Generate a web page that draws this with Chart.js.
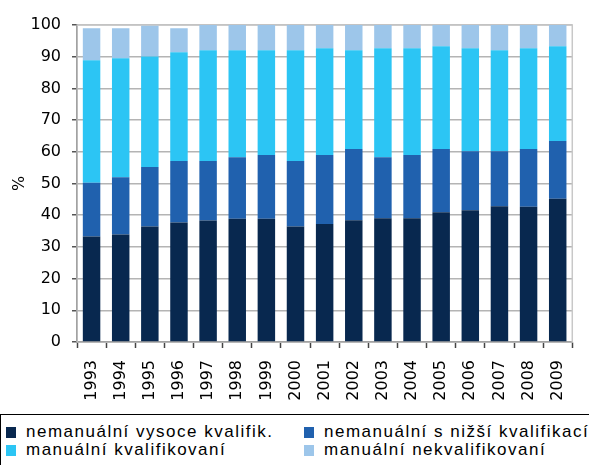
<!DOCTYPE html>
<html>
<head>
<meta charset="utf-8">
<script src="https://cdn.jsdelivr.net/npm/chart.js@4/dist/chart.umd.min.js"></script>
<style>
  html, body { margin: 0; padding: 0; background: #fff; overflow: hidden; }
  #wrap { position: absolute; left: 0; top: 0; width: 589px; height: 411px; }
  #legend {
    position: absolute; left: 0; top: 414px; width: 620px; height: 80px;
    border: 1px solid #000; font-family: "Liberation Sans", Arial, sans-serif;
    font-size: 17px; letter-spacing: 1.5px; color: #000; white-space: nowrap;
  }
  .item { position: absolute; height: 18px; line-height: 18px; }
  .item i { position: absolute; left: 0; top: 4px; width: 10px; height: 11px; }
  .item span { position: absolute; left: 20px; top: 0; }
</style>
</head>
<body>
<div id="wrap"><canvas id="chart"></canvas></div>
<div id="legend"></div>
<script>
// Data (segment sizes, %)
const years = ['1993', '1994', '1995', '1996', '1997', '1998', '1999', '2000', '2001',
  '2002', '2003', '2004', '2005', '2006', '2007', '2008', '2009'];

const seriesNames = [
  'nemanuální vysoce kvalifik.',
  'nemanuální s nižší kvalifikací',
  'manuální kvalifikovaní',
  'manuální nekvalifikovaní'
];

const nemanualVysoce = [33.3, 33.9, 36.4, 37.7, 38.3, 38.9, 38.9, 36.4, 37.2, 38.4, 39.0, 39.0, 40.9, 41.6, 42.8, 42.7, 45.2];
const nemanualNizsi = [16.9, 18.1, 18.8, 19.4, 18.8, 19.4, 20.1, 20.7, 21.8, 22.5, 19.3, 20.0, 20.0, 18.6, 17.4, 18.2, 18.2];
const manualKval = [38.7, 37.5, 34.9, 34.3, 34.9, 33.7, 33.0, 34.9, 33.7, 31.1, 34.4, 33.7, 32.4, 32.5, 31.8, 31.8, 29.9];
const manualNekval = [10.1, 9.5, 9.7, 7.6, 8.0, 8.0, 8.0, 8.0, 7.3, 8.0, 7.3, 7.3, 6.7, 7.3, 8.0, 7.3, 6.7];

const yTicks = [0, 10, 20, 30, 40, 50, 60, 70, 80, 90, 100];

const colors = ['#08284f', '#2061ae', '#2cc5f4', '#9dc6ea'];
const values = [nemanualVysoce, nemanualNizsi, manualKval, manualNekval];

const FONT = '"DejaVu Sans", sans-serif';

// thin grey frame round the plot area (right/top edges in the original)
const frame = {
  id: 'frame',
  beforeDatasetsDraw(chart) {
    const a = chart.chartArea;
    const c = chart.ctx;
    c.save();
    c.strokeStyle = '#c8c8c8';
    c.lineWidth = 1.5;
    c.strokeRect(a.left, a.top, a.right - a.left, a.bottom - a.top);
    c.restore();
  }
};

new Chart(document.getElementById('chart'), {
  type: 'bar',
  data: {
    labels: years,
    datasets: values.map((v, i) => ({
      label: seriesNames[i],
      data: v,
      backgroundColor: colors[i],
      borderWidth: 0,
      barPercentage: 0.6,
      categoryPercentage: 1
    }))
  },
  options: {
    responsive: true,
    maintainAspectRatio: false,
    animation: false,
    layout: { padding: { top: 25, right: 3, left: 0, bottom: 0 } },
    plugins: {
      legend: { display: false },
      tooltip: { enabled: false }
    },
    scales: {
      x: {
        stacked: true,
        grid: {
          drawOnChartArea: false,
          drawTicks: true,
          tickLength: 6,
          tickColor: '#444',
          tickWidth: 1.5
        },
        border: { color: '#333', width: 1.5 },
        ticks: {
          color: '#000',
          font: { family: FONT, size: 16 },
          maxRotation: 90,
          minRotation: 90,
          padding: 12
        },
        afterFit(scale) { scale.height = 69; }
      },
      y: {
        stacked: true,
        min: 0,
        max: 100,
        afterBuildTicks(scale) { scale.ticks = yTicks.map(v => ({ value: v })); },
        grid: {
          color: '#b4b4b4',
          lineWidth: 1.5,
          drawTicks: true,
          tickLength: 5,
          tickColor: '#555'
        },
        border: { color: '#333', width: 1.5 },
        ticks: {
          color: '#000',
          font: { family: FONT, size: 16 },
          padding: 11
        },
        title: {
          display: true,
          text: '%',
          color: '#000',
          font: { family: FONT, size: 16 },
          padding: { top: 10, bottom: 0 }
        },
        afterFit(scale) { scale.width = 77; }
      }
    }
  },
  plugins: [frame]
});

// legend box below the chart, two columns
const legend = document.getElementById('legend');
const pos = [[5, 8], [303, 8], [5, 26], [303, 26]];
seriesNames.forEach((name, i) => {
  const el = document.createElement('div');
  el.className = 'item';
  el.style.left = pos[i][0] + 'px';
  el.style.top = pos[i][1] + 'px';
  el.innerHTML = '<i style="background:' + colors[i] + '"></i><span>' + name + '</span>';
  legend.appendChild(el);
});
</script>
</body>
</html>
